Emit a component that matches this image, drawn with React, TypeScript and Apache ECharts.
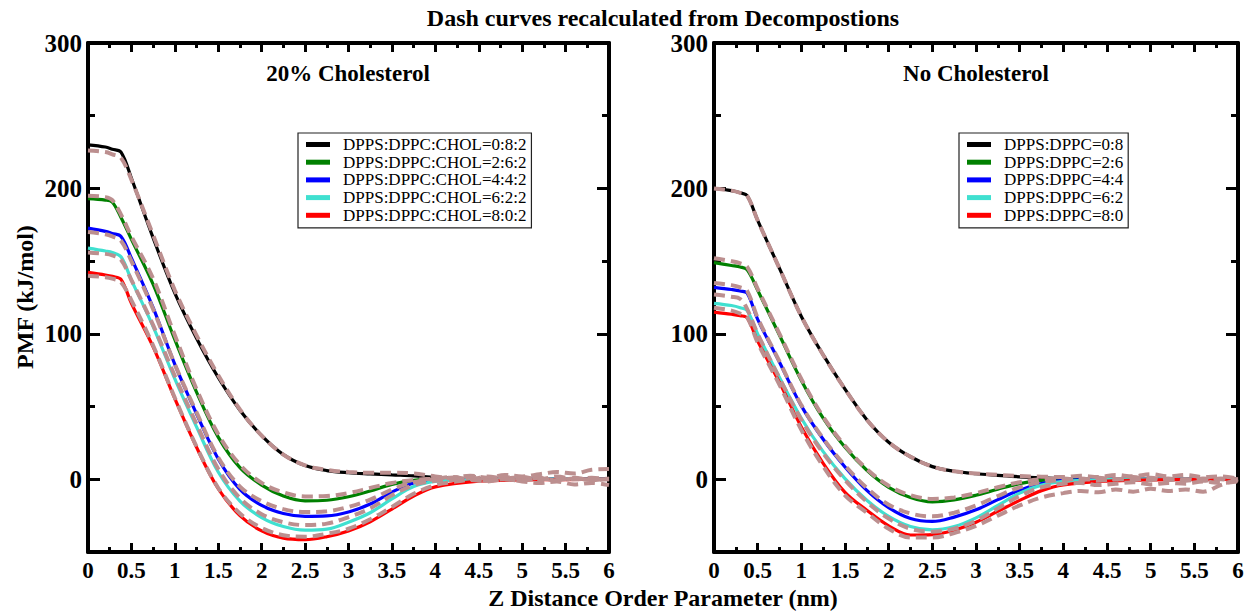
import React, { useEffect, useRef } from "react";
import * as echarts from "echarts";

const FONT = "'Liberation Serif', 'Times New Roman', serif";

const TITLE = "Dash curves recalculated from Decompostions";
const X_NAME = "Z Distance Order Parameter (nm)";
const Y_NAME = "PMF (kJ/mol)";
const LEFT_SUB = "20% Cholesterol";
const RIGHT_SUB = "No Cholesterol";

const LEFT_NAMES = [
  "DPPS:DPPC:CHOL=0:8:2",
  "DPPS:DPPC:CHOL=2:6:2",
  "DPPS:DPPC:CHOL=4:4:2",
  "DPPS:DPPC:CHOL=6:2:2",
  "DPPS:DPPC:CHOL=8:0:2",
];
const RIGHT_NAMES = [
  "DPPS:DPPC=0:8",
  "DPPS:DPPC=2:6",
  "DPPS:DPPC=4:4",
  "DPPS:DPPC=6:2",
  "DPPS:DPPC=8:0",
];
const COLORS = ["#000000", "#008000", "#0000ff", "#40e0d0", "#ff0000"];
const DASH_COLOR = "#bc8f8f";

const Y_MAJOR = [0, 100, 200, 300];
const Y_MINOR = [50, 150, 250];

// ---- Left panel (20% Cholesterol) ----
const XL = [0, 0.2, 0.28, 0.38, 0.5, 0.75, 1, 1.25, 1.5, 1.75, 2, 2.25, 2.5, 2.75, 3, 3.25, 3.5, 3.75, 4, 4.5, 5, 5.5, 6];
const L_082 = [230, 228.5, 227, 225, 207, 166, 128, 97, 70, 47.5, 30, 17, 9.5, 6, 4.5, 3.7, 3, 2.4, 1.2, 0.3, 0, 0, 0];
const L_262 = [193, 192, 190.5, 180, 165, 134, 96, 60, 29, 8, -4, -11.5, -14.8, -14.4, -12, -8, -3.5, -0.7, 0, 0, 0, 0, 0];
const L_442 = [172.7, 170.5, 169, 167, 152, 118, 79, 45, 14, -7, -18, -23.5, -25.5, -25.2, -22.5, -17, -8.8, -2.5, -0.4, 0, 0, 0, 0];
const L_622 = [159, 157, 156, 153, 137, 105, 69, 36, 5, -15, -26.3, -32.5, -35, -34.3, -29.5, -23, -13.5, -5, -1.5, -0.3, 0, 0, 0];
const L_802 = [142.3, 140.5, 139.5, 137.5, 121, 91, 55.5, 22, -6.5, -25, -35.5, -40.5, -41.5, -39.5, -35.6, -29.2, -20.5, -11.5, -5.2, -1.3, -0.5, -0.2, 0];

const XLD = [0, 0.2, 0.28, 0.38, 0.5, 0.75, 1, 1.25, 1.5, 1.75, 2, 2.25, 2.5, 2.75, 3, 3.25, 3.5, 3.75, 4, 4.2, 4.4, 4.6, 4.8, 5, 5.2, 5.4, 5.6, 5.8, 6];
const LD_082 = [226, 225, 223.5, 221, 206, 168, 130, 99, 71.5, 48, 30, 17, 9.5, 6.5, 5, 4.5, 4.5, 4, 2, 1, 2, 0.5, 1.5, 0, 1, -1, 0.5, -0.5, 0];
const LD_262 = [195, 194, 192, 182, 167, 138, 99, 62, 31, 10, -2.5, -9, -11.8, -11.5, -9.5, -6, -2.5, -0.5, 0.5, 1.5, 0, 2, 0.5, 1.5, 0, 2, 0, 1, 0];
const LD_442 = [170, 168.5, 167, 164, 150, 117, 79, 46, 15, -5, -15, -20.5, -22.5, -22, -19, -14, -7, -2, 0, 1, 2.5, 1, 3, 2, 3.5, 5, 4, 6.5, 7];
const LD_622 = [156, 155, 154, 151, 137, 106, 71, 38, 7, -13, -24, -29.5, -31.5, -30.5, -26, -20, -11, -4, -1, -0.5, 1, -1, 0, -1.5, -2.5, -1.5, -3.5, -2.5, -4];
const LD_802 = [140, 139, 138, 135.5, 123, 92, 56, 22.5, -6, -23.5, -33.5, -38.5, -39.5, -37.5, -34, -27.5, -19, -10, -4, -2, -0.5, -1.5, 0, -1, 0.5, -0.5, 1, -0.5, 0.5];

// ---- Right panel (No Cholesterol) ----
const XR = [0, 0.2, 0.3, 0.38, 0.5, 0.75, 1, 1.25, 1.5, 1.75, 2, 2.25, 2.5, 2.75, 3, 3.25, 3.5, 3.75, 4, 4.5, 5, 5.5, 6];
const R_08 = [200, 198.5, 197, 195, 178, 145, 112, 85.5, 62, 41, 25.5, 15.5, 8.7, 5.5, 3.8, 2.7, 1.7, 1, 0.5, 0, 0, 0, 0];
const R_26 = [149, 147, 146, 144, 130, 99, 68, 42, 22, 6.2, -5.5, -12.5, -15.5, -14.2, -11, -6.8, -3, -0.7, 0, 0, 0, 0, 0];
const R_44 = [132, 130.5, 129.5, 128, 110, 80.5, 50.5, 27.5, 8.5, -7.6, -19.5, -27, -29, -26, -21, -14, -7.5, -3, -0.8, 0, 0, 0, 0];
const R_62 = [121, 119.5, 118, 116, 100, 70, 42, 19, 0.5, -14.4, -25.5, -32.5, -34.8, -32.5, -26.5, -18, -9.5, -4, -1.5, -0.3, 0, 0, 0];
const R_80 = [115, 113.5, 112.5, 111, 95, 66.5, 36, 11, -9, -21.3, -32, -38.3, -38, -35, -29.5, -22, -14.5, -7.8, -3.8, -1.2, -0.4, 0, 0];

const XRD = [0, 0.2, 0.3, 0.38, 0.5, 0.75, 1, 1.25, 1.5, 1.75, 2, 2.25, 2.5, 2.75, 3, 3.25, 3.5, 3.75, 4, 4.2, 4.4, 4.6, 4.8, 5, 5.2, 5.4, 5.6, 5.8, 6];
const RD_08 = [200, 198.5, 197, 195, 178, 145, 112, 85.5, 62, 41, 25.5, 15.5, 8.7, 5.5, 4, 3, 2.2, 1.8, 1.5, 2.5, 1.5, 3, 2, 3.5, 2, 3, 1.5, 2, 0.5];
const RD_26 = [152, 150, 148.5, 146, 131, 100, 69, 43, 23, 7, -4.5, -11, -13.5, -12.5, -9.5, -5.5, -2, 0, 0.5, -0.5, 1, 0, 1.5, -0.5, 0.5, -1, 0.5, 0, -1];
const RD_44 = [135, 133.5, 132, 129.5, 111, 81, 51, 28, 9.5, -6, -17.5, -23.5, -25.5, -23, -18, -11.5, -5.5, -2, -0.5, 0.5, -1, 0, -0.5, 1, -0.5, 0, -1, 0.5, 0];
const RD_62 = [127, 125.5, 124, 117, 100, 69.5, 41, 18, -0.5, -15.5, -27, -34, -36, -34, -28.5, -20, -11.5, -5.5, -3, -2.5, -4, -3, -2, -3.5, -2.5, -3, -1.5, -2.5, -1.5];
const RD_80 = [118, 116, 114, 111.5, 94, 65, 34, 9, -11, -23, -34, -40, -40, -37, -32, -25, -18, -12.5, -9.5, -8, -9, -7, -8.5, -6.5, -8, -7, -8.5, -4, 0];

const LEFT_SOLID = [L_082, L_262, L_442, L_622, L_802];
const LEFT_DASH = [LD_082, LD_262, LD_442, LD_622, LD_802];
const RIGHT_SOLID = [R_08, R_26, R_44, R_62, R_80];
const RIGHT_DASH = [RD_08, RD_26, RD_44, RD_62, RD_80];

function pairs(xs: number[], ys: number[]) {
  return xs.map((x, i) => [x, ys[i]]);
}

function xAxisDef(gridIndex: number, position: string, showLabel: boolean) {
  return {
    type: "value",
    gridIndex,
    position,
    min: 0,
    max: 6,
    interval: 0.5,
    axisLine: { show: true, onZero: false, lineStyle: { color: "#000", width: 4 } },
    axisTick: { show: true, inside: true, length: 9, lineStyle: { color: "#000", width: 3 } },
    minorTick: { show: true, splitNumber: 2, length: 5, lineStyle: { color: "#000", width: 3 } },
    axisLabel: {
      show: showLabel,
      color: "#000",
      fontFamily: FONT,
      fontWeight: "bold",
      fontSize: 23,
      margin: 7,
    },
    splitLine: { show: false },
    minorSplitLine: { show: false },
  };
}

function yMainDef(gridIndex: number, position: string, showLabel: boolean) {
  return {
    type: "value",
    gridIndex,
    position,
    min: -50,
    max: 300,
    interval: 50,
    axisLine: { show: true, onZero: false, lineStyle: { color: "#000", width: 4 } },
    axisTick: {
      show: true,
      inside: true,
      length: 12,
      customValues: Y_MAJOR,
      lineStyle: { color: "#000", width: 3 },
    },
    axisLabel: {
      show: showLabel,
      customValues: Y_MAJOR,
      color: "#000",
      fontFamily: FONT,
      fontWeight: "bold",
      fontSize: 25,
      margin: 6,
    },
    splitLine: { show: false },
  };
}

function yMinorDef(gridIndex: number, position: string) {
  return {
    type: "value",
    gridIndex,
    position,
    min: -50,
    max: 300,
    interval: 50,
    axisLine: { show: false, onZero: false },
    axisTick: {
      show: true,
      inside: true,
      length: 7,
      customValues: Y_MINOR,
      lineStyle: { color: "#000", width: 3 },
    },
    axisLabel: { show: false },
    splitLine: { show: false },
  };
}

function buildSeries() {
  const series: any[] = [];
  const panels = [
    { xs: XL, xds: XLD, solid: LEFT_SOLID, dash: LEFT_DASH, names: LEFT_NAMES, xi: 0, yi: 0, tag: "L" },
    { xs: XR, xds: XRD, solid: RIGHT_SOLID, dash: RIGHT_DASH, names: RIGHT_NAMES, xi: 2, yi: 4, tag: "R" },
  ];
  panels.forEach((p) => {
    p.solid.forEach((ys, i) => {
      series.push({
        type: "line",
        name: p.names[i],
        xAxisIndex: p.xi,
        yAxisIndex: p.yi,
        data: pairs(p.xs, ys),
        showSymbol: false,
        smooth: 0.35,
        color: COLORS[i],
        lineStyle: { color: COLORS[i], width: 3.2 },
        z: 2,
      });
    });
    p.dash.forEach((ys, i) => {
      series.push({
        type: "line",
        name: "dash-" + p.tag + i,
        xAxisIndex: p.xi,
        yAxisIndex: p.yi,
        data: pairs(p.xds, ys),
        showSymbol: false,
        smooth: 0.35,
        color: DASH_COLOR,
        lineStyle: { color: DASH_COLOR, width: 4, type: [11, 6] },
        z: 3,
      });
    });
  });
  return series;
}

function legendDef(names: string[], left: number) {
  return {
    data: names,
    orient: "vertical",
    left,
    top: 133,
    padding: [3, 5, 4, 8],
    itemGap: 0.7,
    itemWidth: 24,
    itemHeight: 5,
    icon: "rect",
    backgroundColor: "#fff",
    borderColor: "#222",
    borderWidth: 1.2,
    selectedMode: false,
    textStyle: {
      fontFamily: FONT,
      fontSize: 17,
      color: "#000",
      lineHeight: 17,
      padding: [0, 0, 0, 8],
    },
  };
}

export default function App() {
  const ref = useRef<HTMLDivElement>(null);

  useEffect(() => {
    document.body.style.margin = "0";
    if (!ref.current) return;
    const chart = echarts.init(ref.current, undefined, { renderer: "svg" });
    const textStyle = (size: number) => ({
      font: `bold ${size}px ${FONT}`,
      fill: "#000",
      textAlign: "center",
      textVerticalAlign: "middle",
      verticalAlign: "middle",
    });
    chart.setOption({
      animation: false,
      backgroundColor: "#fff",
      grid: [
        { left: 88, top: 43, width: 521, height: 509, containLabel: false },
        { left: 714, top: 43, width: 524, height: 509, containLabel: false },
      ],
      xAxis: [
        xAxisDef(0, "bottom", true),
        xAxisDef(0, "top", false),
        xAxisDef(1, "bottom", true),
        xAxisDef(1, "top", false),
      ],
      yAxis: [
        yMainDef(0, "left", true),
        yMinorDef(0, "left"),
        yMainDef(0, "right", false),
        yMinorDef(0, "right"),
        yMainDef(1, "left", true),
        yMinorDef(1, "left"),
        yMainDef(1, "right", false),
        yMinorDef(1, "right"),
      ],
      legend: [legendDef(LEFT_NAMES, 298), legendDef(RIGHT_NAMES, 959)],
      graphic: [
        { type: "text", x: 663, y: 18, style: { text: TITLE, ...textStyle(24) } },
        { type: "text", x: 348, y: 73, style: { text: LEFT_SUB, ...textStyle(23) } },
        { type: "text", x: 976, y: 73, style: { text: RIGHT_SUB, ...textStyle(23) } },
        { type: "text", x: 663, y: 598, style: { text: X_NAME, ...textStyle(24) } },
        { type: "text", x: 25, y: 297, rotation: Math.PI / 2, style: { text: Y_NAME, ...textStyle(24) } },
      ],
      series: buildSeries(),
    });
    return () => {
      chart.dispose();
    };
  }, []);

  return <div ref={ref} style={{ width: 1247, height: 611 }} />;
}
